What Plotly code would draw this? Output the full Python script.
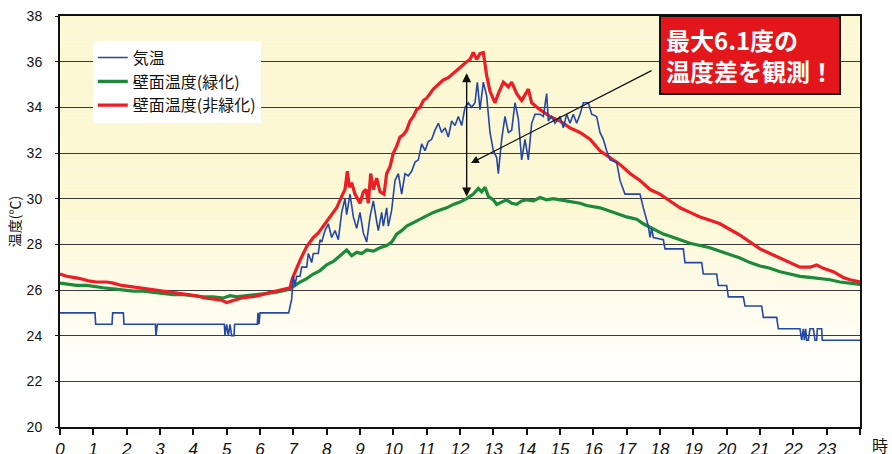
import plotly.graph_objects as go

# ---------------- data ----------------
air_hours = [0.0, 1.05, 1.07, 1.56, 1.58, 1.9, 1.92, 2.86, 2.88, 2.92, 4.93, 4.95, 5.0, 5.05, 5.1, 5.15, 5.22,
             5.24, 5.92, 5.94, 5.97, 6.0, 6.86, 6.95, 7.0, 7.05, 7.1, 7.2, 7.25, 7.4, 7.45, 7.55, 7.6, 7.75,
             7.8, 7.85, 7.95, 8.05, 8.15, 8.25, 8.35, 8.45, 8.55, 8.6, 8.7, 8.8, 8.9, 9.0, 9.1, 9.2, 9.3, 9.4,
             9.5, 9.55, 9.65, 9.7, 9.8, 9.85, 9.95, 10.05, 10.15, 10.25, 10.35, 10.45, 10.55, 10.65, 10.75,
             10.85, 10.95, 11.05, 11.15, 11.25, 11.35, 11.45, 11.55, 11.65, 11.75, 11.85, 11.95, 12.05, 12.15,
             12.25, 12.35, 12.45, 12.52, 12.6, 12.7, 12.8, 12.9, 13.0, 13.1, 13.15, 13.25, 13.35, 13.45, 13.55,
             13.65, 13.75, 13.85, 13.95, 14.05, 14.15, 14.25, 14.4, 14.5, 14.6, 14.65, 14.75, 14.85, 15.0, 15.1,
             15.2, 15.3, 15.4, 15.5, 15.6, 15.7, 15.85, 15.95, 16.1, 16.2, 16.3, 16.4, 16.5, 16.7, 16.8, 16.95,
             17.4, 17.5, 17.65, 17.7, 17.75, 17.8, 18.1, 18.15, 18.7, 18.75, 19.25, 19.3, 19.7, 19.75, 20.0,
             20.05, 20.5, 20.55, 21.05, 21.1, 21.5, 21.55, 22.2, 22.25, 22.3, 22.33, 22.37, 22.4, 22.45, 22.5,
             22.6, 22.65, 22.7, 22.72, 22.85, 22.87, 24.0]
air_temp = [25.0, 25.0, 24.5, 24.5, 25.0, 25.0, 24.5, 24.5, 24.0, 24.5, 24.5, 24.0, 24.5, 24.0, 24.5, 24.0, 24.0,
            24.5, 24.5, 25.0, 24.5, 25.0, 25.0, 25.6, 26.6, 26.2, 26.6, 26.6, 27.0, 27.0, 27.6, 27.2, 27.6, 27.6,
            28.2, 28.1, 28.6, 28.9, 28.3, 28.6, 28.2, 29.4, 30.0, 29.3, 30.2, 29.2, 28.7, 29.4, 28.5, 28.1, 29.2,
            29.9, 29.0, 28.6, 29.4, 28.8, 29.6, 28.8, 29.5, 30.8, 31.1, 30.2, 31.1, 31.0, 31.2, 31.6, 31.7, 32.4,
            32.1, 32.5, 32.6, 33.0, 33.3, 32.9, 33.1, 32.7, 33.4, 33.2, 33.6, 33.2, 34.0, 34.2, 34.0, 34.2, 35.1,
            33.9, 35.1, 34.5, 32.9, 32.1, 31.8, 31.1, 32.6, 33.6, 32.9, 33.0, 34.2, 33.5, 31.7, 32.6, 31.7, 33.3,
            33.7, 33.7, 33.6, 34.6, 33.4, 33.6, 33.3, 33.6, 33.1, 33.7, 33.3, 33.7, 33.3, 33.7, 34.2, 34.2, 33.7,
            33.6, 32.9, 32.6, 32.1, 31.7, 31.6, 30.8, 30.2, 30.2, 29.6, 28.8, 28.3, 28.7, 28.3, 28.2, 27.8, 27.8,
            27.2, 27.2, 26.7, 26.7, 26.2, 26.2, 25.7, 25.7, 25.3, 25.3, 24.8, 24.8, 24.3, 24.3, 23.8, 24.3, 23.8,
            24.3, 23.8, 23.8, 24.3, 24.3, 23.8, 23.8, 24.3, 24.3, 23.8, 23.8]

green_hours = [0.0, 0.3, 0.5, 0.8, 1.0, 1.3, 1.6, 1.9, 2.2, 2.5, 2.8, 3.1, 3.4, 3.7, 4.0, 4.3, 4.6, 4.9, 5.1, 5.3,
               5.6, 5.9, 6.2, 6.5, 6.8, 7.0, 7.2, 7.4, 7.6, 7.8, 8.0, 8.2, 8.4, 8.6, 8.75, 8.9, 9.05, 9.2, 9.4,
               9.6, 9.8, 9.95, 10.1, 10.25, 10.4, 10.6, 10.8, 11.0, 11.2, 11.4, 11.6, 11.8, 12.0, 12.2, 12.4,
               12.55, 12.65, 12.75, 12.85, 13.0, 13.1, 13.25, 13.4, 13.55, 13.7, 13.85, 14.0, 14.2, 14.4, 14.6,
               14.8, 15.0, 15.2, 15.4, 15.6, 15.8, 16.0, 16.2, 16.4, 16.6, 16.8, 17.0, 17.3, 17.5, 17.7, 17.9,
               18.1, 18.3, 18.6, 18.9, 19.2, 19.5, 19.8, 20.1, 20.4, 20.7, 21.0, 21.3, 21.6, 21.9, 22.2, 22.5,
               22.8, 23.1, 23.4, 23.7, 24.0]
green_temp = [26.3, 26.25, 26.2, 26.2, 26.15, 26.1, 26.05, 26.0, 25.95, 25.95, 25.9, 25.85, 25.8, 25.8, 25.75,
              25.7, 25.7, 25.65, 25.75, 25.7, 25.75, 25.8, 25.85, 25.9, 26.0, 26.15, 26.35, 26.5, 26.7, 26.85,
              27.1, 27.25, 27.5, 27.75, 27.5, 27.65, 27.6, 27.75, 27.7, 27.85, 27.95, 28.1, 28.45, 28.6, 28.8,
              28.95, 29.1, 29.25, 29.4, 29.5, 29.6, 29.75, 29.85, 30.0, 30.2, 30.45, 30.3, 30.5, 30.1, 29.95,
              29.75, 29.85, 29.95, 29.8, 29.75, 29.9, 29.95, 29.9, 30.05, 29.95, 30.0, 29.95, 29.9, 29.85, 29.8,
              29.7, 29.65, 29.6, 29.5, 29.4, 29.3, 29.2, 29.1, 28.9, 28.75, 28.6, 28.45, 28.35, 28.2, 28.05,
              27.95, 27.85, 27.7, 27.55, 27.4, 27.2, 27.05, 26.95, 26.8, 26.7, 26.6, 26.55, 26.5, 26.45, 26.35,
              26.3, 26.25]

red_hours = [0.0, 0.2, 0.4, 0.6, 0.85, 1.1, 1.4, 1.6, 1.85, 2.1, 2.4, 2.6, 2.85, 3.1, 3.4, 3.6, 3.85, 4.1, 4.35,
             4.6, 4.85, 5.0, 5.1, 5.25, 5.45, 5.7, 5.95, 6.2, 6.45, 6.7, 6.9, 6.97, 7.05, 7.2, 7.4, 7.6, 7.75,
             7.9, 8.1, 8.3, 8.45, 8.55, 8.62, 8.68, 8.75, 8.85, 9.0, 9.1, 9.18, 9.25, 9.32, 9.4, 9.5, 9.6, 9.72,
             9.8, 9.9, 10.0, 10.1, 10.2, 10.3, 10.4, 10.5, 10.6, 10.7, 10.8, 10.9, 11.0, 11.1, 11.2, 11.35, 11.5,
             11.65, 11.8, 11.95, 12.1, 12.2, 12.3, 12.4, 12.5, 12.6, 12.7, 12.75, 12.8, 12.9, 13.05, 13.15, 13.3,
             13.45, 13.55, 13.7, 13.85, 14.05, 14.15, 14.4, 14.7, 15.0, 15.3, 15.6, 15.9, 16.2, 16.5, 16.8, 17.1,
             17.4, 17.7, 18.0, 18.3, 18.6, 18.9, 19.2, 19.5, 19.8, 20.1, 20.4, 20.7, 21.0, 21.3, 21.6, 21.9,
             22.2, 22.5, 22.7, 22.9, 23.2, 23.5, 23.7, 24.0]
red_temp = [26.7, 26.6, 26.55, 26.5, 26.4, 26.35, 26.35, 26.3, 26.2, 26.15, 26.1, 26.05, 26.0, 25.95, 25.9,
            25.85, 25.8, 25.75, 25.65, 25.6, 25.55, 25.45, 25.5, 25.55, 25.65, 25.7, 25.75, 25.85, 25.95, 26.05,
            26.1, 26.5, 26.8, 27.3, 27.9, 28.3, 28.5, 28.8, 29.2, 29.6, 30.1, 30.4, 31.2, 30.5, 30.7, 30.2, 29.8,
            30.3, 30.4, 29.8, 31.1, 30.4, 30.9, 30.3, 30.2, 31.1, 31.4, 32.0, 32.3, 32.7, 32.8, 33.0, 33.4, 33.6,
            33.9, 34.0, 34.3, 34.4, 34.6, 34.8, 35.0, 35.2, 35.3, 35.5, 35.7, 35.9, 36.0, 36.1, 36.4, 36.1, 36.35,
            36.4, 35.8, 35.4, 34.7, 34.2, 34.6, 35.1, 34.9, 35.1, 34.6, 34.3, 34.8, 34.2, 33.9, 33.6, 33.4, 33.1,
            32.9, 32.6, 32.1, 31.8, 31.5, 31.1, 30.8, 30.4, 30.2, 29.9, 29.6, 29.4, 29.2, 29.05, 28.9, 28.65,
            28.4, 28.1, 27.8, 27.6, 27.4, 27.2, 27.0, 27.0, 27.1, 26.95, 26.8, 26.55, 26.45, 26.35]

x_tick_vals = list(range(0, 25))
x_tick_text = [str(h) for h in range(0, 24)] + [""]
y_tick_vals = [20, 22, 24, 26, 28, 30, 32, 34, 36, 38]

series_names = ["気温", "壁面温度(緑化)", "壁面温度(非緑化)"]
callout_text = "最大6.1度の<br>温度差を観測！"
x_unit = "時"
y_title = "温度(℃)"

# annotation anchor values (data units)
diff_hour = 12.2
diff_low, diff_high = 30.09, 35.56
pointer_hour, pointer_temp = 12.33, 31.56
pointer_tail_hour, pointer_tail_temp = 17.79, 35.64

# ---------------- figure ----------------
BLUE = "#2446a6"
GREEN = "#1b8a3a"
RED = "#ee1c25"

fig = go.Figure()
fig.add_trace(go.Scatter(x=green_hours, y=green_temp, mode="lines", name=series_names[1],
                         line=dict(color=GREEN, width=3.2), legendrank=2, legendgroup="g"))
fig.add_trace(go.Scatter(x=red_hours, y=red_temp, mode="lines", name=series_names[2],
                         line=dict(color=RED, width=3.2), legendrank=3, legendgroup="r"))
fig.add_trace(go.Scatter(x=air_hours, y=air_temp, mode="lines", name=series_names[0],
                         line=dict(color=BLUE, width=1.6), legendrank=1, legendgroup="b"))

# background gradient (cream at top, white at bottom)
shapes = []
n_bands = 40
cream = (252, 248, 212)
for i in range(n_bands):
    f0 = i / n_bands
    f1 = (i + 1) / n_bands
    w = min(1.0, max(0.0, (f0 - 0.08) / 0.45))
    c = tuple(round(255 + (cream[k] - 255) * w) for k in range(3))
    shapes.append(dict(type="rect", xref="paper", yref="paper", x0=0, x1=1, y0=f0, y1=f1,
                       fillcolor="rgb(%d,%d,%d)" % c, line=dict(width=0), layer="below"))

annotations = [
    # double-headed vertical arrow
    dict(x=diff_hour, y=diff_low, ax=diff_hour, ay=diff_high, xref="x", yref="y", axref="x", ayref="y",
         text="", showarrow=True, arrowhead=2, startarrowhead=2, arrowside="end+start",
         arrowsize=1.3, startarrowsize=1.3, arrowwidth=1.4, arrowcolor="#111"),
    # pointer from callout
    dict(x=pointer_hour, y=pointer_temp, ax=pointer_tail_hour, ay=pointer_tail_temp, xref="x", yref="y",
         axref="x", ayref="y", text="", showarrow=True, arrowhead=2, arrowsize=1.3, arrowwidth=1.2,
         arrowcolor="#111"),
    # callout box
    dict(x=0.8625, y=0.905, xref="paper", yref="paper", xanchor="center", yanchor="middle",
         text="<b>" + callout_text + "</b>", showarrow=False, align="left",
         font=dict(family="Noto Sans CJK JP", size=24, color="white"),
         bgcolor="#e3161c", bordercolor="#111", borderwidth=2, borderpad=5),
    # x unit
    dict(x=1.025, y=-0.044, xref="paper", yref="paper", xanchor="center", yanchor="middle",
         text=x_unit, showarrow=False, font=dict(family="Noto Sans CJK JP", size=16, color="#111")),
]

fig.update_layout(
    width=892, height=454,
    margin=dict(l=60, r=32, t=16, b=27, autoexpand=False),
    paper_bgcolor="white",
    plot_bgcolor="white",
    shapes=shapes,
    annotations=annotations,
    showlegend=True,
    legend=dict(x=0.041, y=0.94, xanchor="left", yanchor="top", bgcolor="white", borderwidth=0,
                font=dict(family="Noto Sans CJK JP", size=16, color="#111"), tracegroupgap=5,
                traceorder="normal"),
    font=dict(family="Liberation Sans", color="#111"),
)

fig.update_xaxes(range=[0, 24], tickvals=x_tick_vals, ticktext=x_tick_text, automargin=False,
                 showgrid=False, showline=True, linecolor="#111", linewidth=2, mirror=True,
                 ticks="outside", ticklen=6, tickwidth=2, tickcolor="#111", ticklabeloverflow="allow",
                 tickfont=dict(family="Liberation Sans", size=17, style="italic", color="#111"),
                 zeroline=False)
fig.update_yaxes(range=[20, 38], tickvals=y_tick_vals, automargin=False,
                 showgrid=True, gridcolor="#3a3a3a", gridwidth=1.1,
                 showline=True, linecolor="#111", linewidth=2, mirror=True,
                 ticks="outside", ticklen=3, tickwidth=1, tickcolor="#111",
                 ticklabelstandoff=10, ticklabeloverflow="allow",
                 tickfont=dict(family="Liberation Sans", size=14, color="#111"),
                 title=dict(text=y_title, font=dict(family="Noto Sans CJK JP", size=14, color="#111"),
                            standoff=3),
                 zeroline=False)

# remove the default 8px page margin so the 892x454 figure fills the window exactly
fig.write_html("out.html",
               config={"displayModeBar": False},
               post_script="document.body.style.margin='0';document.body.style.overflow='hidden';")
